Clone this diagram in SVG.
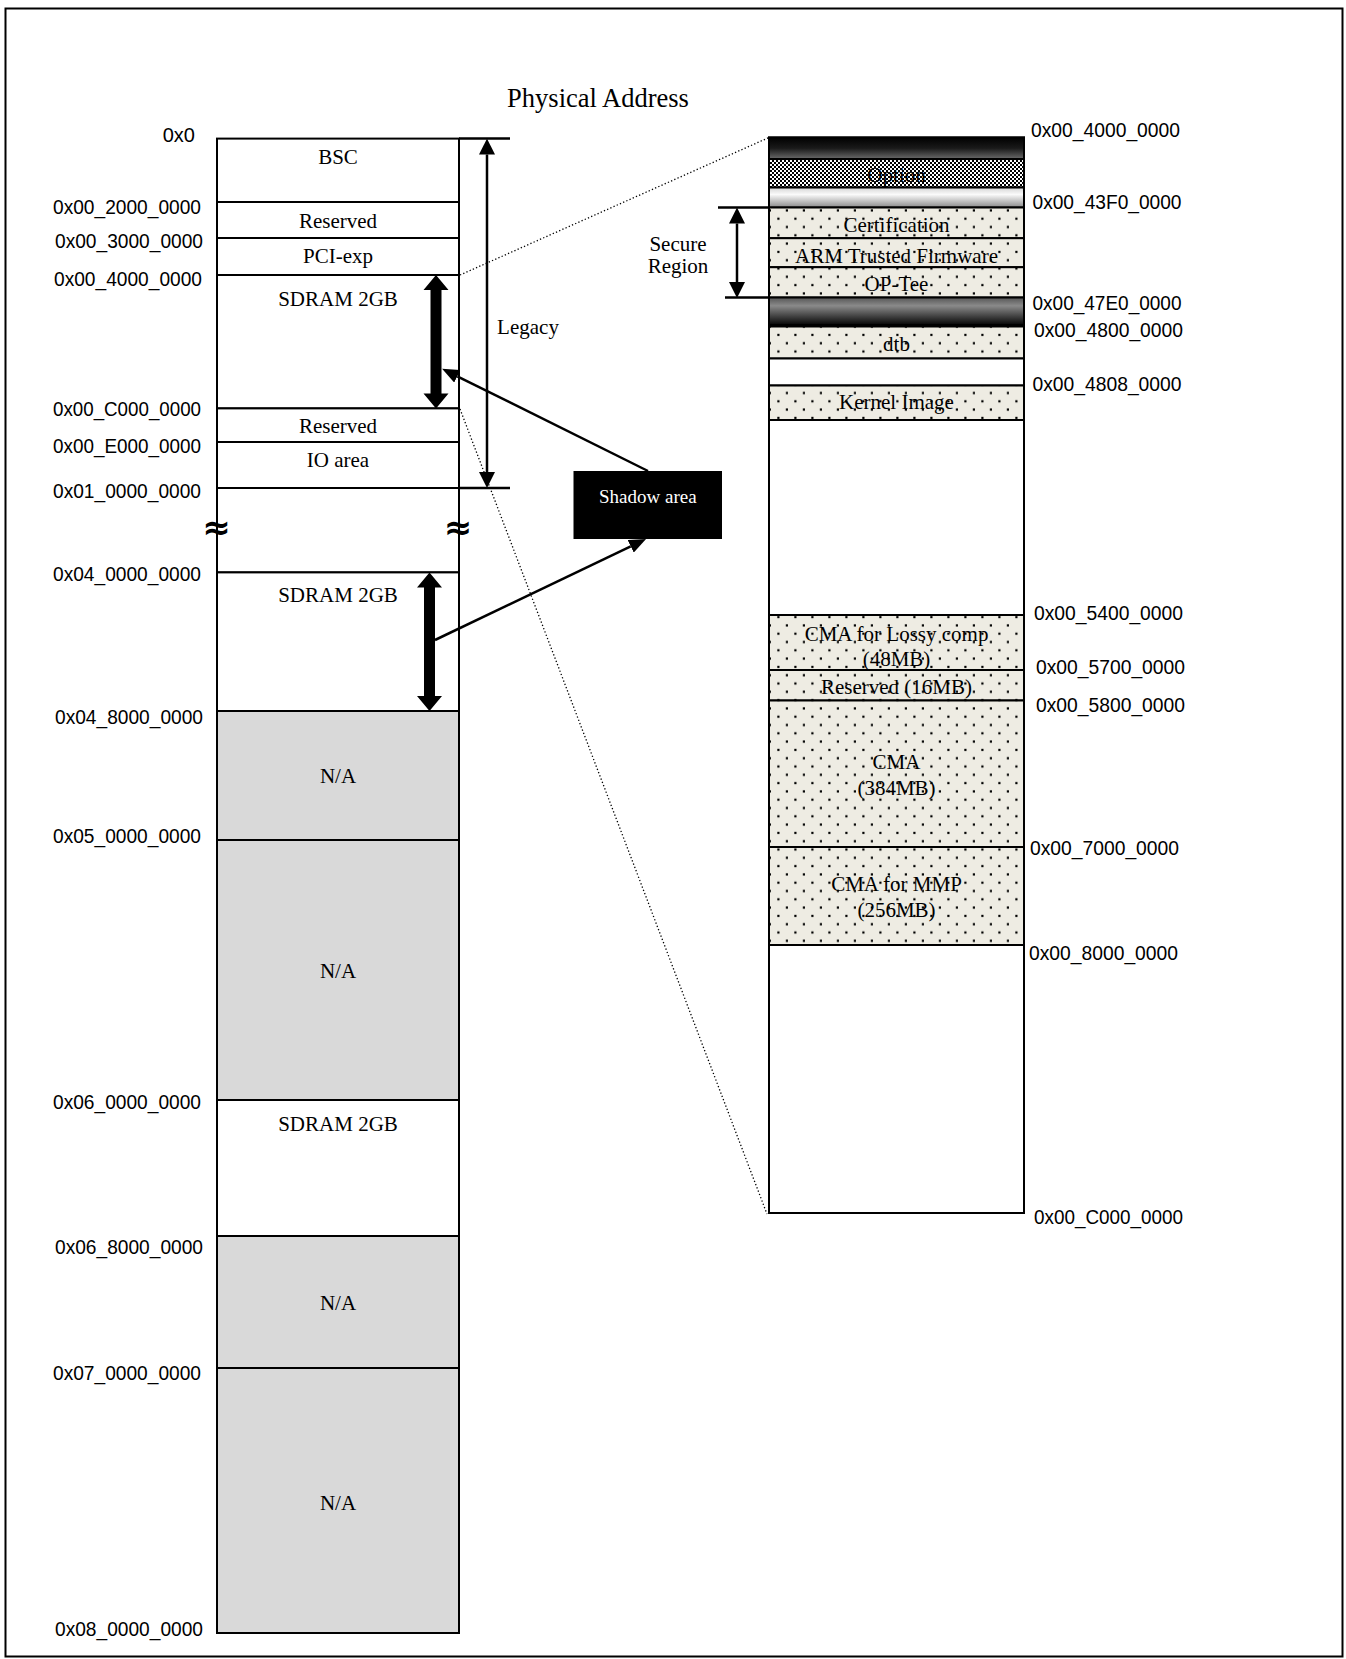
<svg xmlns="http://www.w3.org/2000/svg" width="1346" height="1659" viewBox="0 0 1346 1659">
<style>
.box{stroke:#000;stroke-width:2}
.w{fill:#fff}
.na{fill:#d9d9d9}
.dot{fill:url(#dots)}
.lbl{font-family:"Liberation Serif","Times New Roman",serif;font-size:21px;fill:#000;text-anchor:middle}
.addr{font-family:"Liberation Sans",Arial,sans-serif;font-size:20px;fill:#000}
.l{text-anchor:end}
.thin{stroke:#000;stroke-width:2.5;fill:none}
.dotted{stroke:#000;stroke-width:1.3;stroke-dasharray:1.3 2.2;fill:none}
.eq{font-family:"DejaVu Sans",sans-serif;font-size:34px;font-weight:bold;fill:#000;text-anchor:middle}
</style>
<defs>
<pattern id="dots" patternUnits="userSpaceOnUse" x="770" y="0" width="17" height="16.6">
<rect width="17" height="16.6" fill="#eeece3"/>
<rect x="7.3" y="1.8" width="2.2" height="2.2" fill="#000"/>
<rect x="15.8" y="10.1" width="2.2" height="2.2" fill="#000"/>
<rect x="-1.2" y="10.1" width="2.2" height="2.2" fill="#000"/>
</pattern>
<pattern id="checker" patternUnits="userSpaceOnUse" width="4" height="4">
<rect width="4" height="4" fill="#fff"/>
<rect width="2" height="2" fill="#000"/>
<rect x="2" y="2" width="2" height="2" fill="#000"/>
</pattern>
<linearGradient id="g1" x1="0" y1="0" x2="0" y2="1">
<stop offset="0" stop-color="#000"/>
<stop offset="0.5" stop-color="#1a1a1a"/>
<stop offset="1" stop-color="#6a6a6a"/>
</linearGradient>
<linearGradient id="g2" x1="0" y1="0" x2="0" y2="1">
<stop offset="0" stop-color="#d4d4d4"/>
<stop offset="0.35" stop-color="#fafafa"/>
<stop offset="1" stop-color="#8a8a8a"/>
</linearGradient>
<linearGradient id="g3" x1="0" y1="0" x2="0" y2="1">
<stop offset="0" stop-color="#555"/>
<stop offset="0.3" stop-color="#8a8a8a"/>
<stop offset="1" stop-color="#050505"/>
</linearGradient>
<marker id="ah" viewBox="0 0 16 16" refX="0" refY="8" markerWidth="16" markerHeight="16" markerUnits="userSpaceOnUse" orient="auto-start-reverse">
<path d="M0,0 L16,8 L0,16 z" fill="#000"/>
</marker>
<marker id="ptr" viewBox="0 0 17 14" refX="0" refY="7" markerWidth="17" markerHeight="14" markerUnits="userSpaceOnUse" orient="auto">
<path d="M0,0 L17,7 L0,14 z" fill="#000"/>
</marker>
</defs>

<rect id="frame" x="5.5" y="8.5" width="1337" height="1648" fill="#fff" stroke="#000" stroke-width="2"/>

<text id="title" x="598" y="107" font-family="Liberation Serif,'Times New Roman',serif" font-size="26.5" text-anchor="middle">Physical Address</text>

<!-- Left column -->
<g id="left-map">
<g id="l-bsc"><rect class="box w" x="217" y="138.6" width="242" height="63.4"/><text class="lbl" x="338" y="164">BSC</text></g>
<g id="l-res1"><rect class="box w" x="217" y="202" width="242" height="36"/><text class="lbl" x="338" y="227.5">Reserved</text></g>
<g id="l-pci"><rect class="box w" x="217" y="238" width="242" height="37"/><text class="lbl" x="338" y="262.5">PCI-exp</text></g>
<g id="l-sdram1"><rect class="box w" x="217" y="275" width="242" height="133.4"/><text class="lbl" x="338" y="306">SDRAM 2GB</text></g>
<g id="l-res2"><rect class="box w" x="217" y="408.4" width="242" height="33.6"/><text class="lbl" x="338" y="432.5">Reserved</text></g>
<g id="l-io"><rect class="box w" x="217" y="442" width="242" height="46"/><text class="lbl" x="338" y="467">IO area</text></g>
<g id="l-gap"><rect class="box w" x="217" y="488" width="242" height="84.4"/>
<text class="eq" x="216.5" y="539">≈</text><text class="eq" x="458" y="539">≈</text></g>
<g id="l-sdram2"><rect class="box w" x="217" y="572.4" width="242" height="138.6"/><text class="lbl" x="338" y="602">SDRAM 2GB</text></g>
<g id="l-na1"><rect class="box na" x="217" y="711" width="242" height="129"/><text class="lbl" x="338" y="783">N/A</text></g>
<g id="l-na2"><rect class="box na" x="217" y="840" width="242" height="260"/><text class="lbl" x="338" y="977.5">N/A</text></g>
<g id="l-sdram3"><rect class="box w" x="217" y="1100" width="242" height="136"/><text class="lbl" x="338" y="1131">SDRAM 2GB</text></g>
<g id="l-na3"><rect class="box na" x="217" y="1236" width="242" height="132"/><text class="lbl" x="338" y="1310">N/A</text></g>
<g id="l-na4"><rect class="box na" x="217" y="1368" width="242" height="265"/><text class="lbl" x="338" y="1510">N/A</text></g>
</g>

<g id="left-addr">
<text class="addr l" x="195" y="142">0x0</text>
<text class="addr l" x="201" y="213.5" textLength="148" lengthAdjust="spacingAndGlyphs">0x00_2000_0000</text>
<text class="addr l" x="203" y="247.5" textLength="148" lengthAdjust="spacingAndGlyphs">0x00_3000_0000</text>
<text class="addr l" x="202" y="286" textLength="148" lengthAdjust="spacingAndGlyphs">0x00_4000_0000</text>
<text class="addr l" x="201" y="416" textLength="148" lengthAdjust="spacingAndGlyphs">0x00_C000_0000</text>
<text class="addr l" x="201" y="453" textLength="148" lengthAdjust="spacingAndGlyphs">0x00_E000_0000</text>
<text class="addr l" x="201" y="498" textLength="148" lengthAdjust="spacingAndGlyphs">0x01_0000_0000</text>
<text class="addr l" x="201" y="581" textLength="148" lengthAdjust="spacingAndGlyphs">0x04_0000_0000</text>
<text class="addr l" x="203" y="724" textLength="148" lengthAdjust="spacingAndGlyphs">0x04_8000_0000</text>
<text class="addr l" x="201" y="843" textLength="148" lengthAdjust="spacingAndGlyphs">0x05_0000_0000</text>
<text class="addr l" x="201" y="1109" textLength="148" lengthAdjust="spacingAndGlyphs">0x06_0000_0000</text>
<text class="addr l" x="203" y="1253.5" textLength="148" lengthAdjust="spacingAndGlyphs">0x06_8000_0000</text>
<text class="addr l" x="201" y="1380" textLength="148" lengthAdjust="spacingAndGlyphs">0x07_0000_0000</text>
<text class="addr l" x="203" y="1635.5" textLength="148" lengthAdjust="spacingAndGlyphs">0x08_0000_0000</text>
</g>

<!-- Right column -->
<g id="right-map">
<rect class="box w" x="769" y="137.5" width="255" height="1075.5"/>
<g id="r-band1"><rect class="box" x="769" y="137.5" width="255" height="21.5" fill="url(#g1)"/></g>
<g id="r-option"><rect class="box" x="769" y="159" width="255" height="28.5" fill="url(#checker)"/><text class="lbl" x="896.5" y="182" fill="#222">Option</text></g>
<g id="r-band2"><rect class="box" x="769" y="187.5" width="255" height="20" fill="url(#g2)"/></g>
<g id="r-cert"><rect class="box dot" x="769" y="207.5" width="255" height="30.7"/><text class="lbl" x="896.5" y="232">Certification</text></g>
<g id="r-atf"><rect class="box dot" x="769" y="238.2" width="255" height="29"/><text class="lbl" x="896.5" y="263">ARM Trusted Firmware</text></g>
<g id="r-optee"><rect class="box dot" x="769" y="267.2" width="255" height="30.3"/><text class="lbl" x="896.5" y="291">OP-Tee</text></g>
<g id="r-band3"><rect class="box" x="769" y="297.5" width="255" height="27.5" fill="url(#g3)"/></g>
<g id="r-dtb"><rect class="box dot" x="769" y="326.5" width="255" height="32"/><text class="lbl" x="896.5" y="351">dtb</text></g>
<g id="r-free1"><rect class="box w" x="769" y="358.5" width="255" height="27"/></g>
<g id="r-kernel"><rect class="box dot" x="769" y="385.5" width="255" height="34.5"/><text class="lbl" x="896.5" y="409">Kernel Image</text></g>
<g id="r-free2"><rect class="box w" x="769" y="420" width="255" height="195"/></g>
<g id="r-lossy"><rect class="box dot" x="769" y="615" width="255" height="55"/><text class="lbl" x="896.5" y="640.5">CMA for Lossy comp</text><text class="lbl" x="896.5" y="666">(48MB)</text></g>
<g id="r-res16"><rect class="box dot" x="769" y="670" width="255" height="30.5"/><text class="lbl" x="896.5" y="694">Reserved (16MB)</text></g>
<g id="r-cma"><rect class="box dot" x="769" y="700.5" width="255" height="146.5"/><text class="lbl" x="896.5" y="768.5">CMA</text><text class="lbl" x="896.5" y="794.5">(384MB)</text></g>
<g id="r-mmp"><rect class="box dot" x="769" y="847" width="255" height="98"/><text class="lbl" x="896.5" y="890.5">CMA for MMP</text><text class="lbl" x="896.5" y="917">(256MB)</text></g>
<g id="r-free3"><rect class="box w" x="769" y="945" width="255" height="268"/></g>
</g>

<g id="right-addr">
<text class="addr" x="1031" y="137" textLength="149" lengthAdjust="spacingAndGlyphs">0x00_4000_0000</text>
<text class="addr" x="1032.5" y="209" textLength="149" lengthAdjust="spacingAndGlyphs">0x00_43F0_0000</text>
<text class="addr" x="1032.5" y="310" textLength="149" lengthAdjust="spacingAndGlyphs">0x00_47E0_0000</text>
<text class="addr" x="1034" y="336.5" textLength="149" lengthAdjust="spacingAndGlyphs">0x00_4800_0000</text>
<text class="addr" x="1032.5" y="390.5" textLength="149" lengthAdjust="spacingAndGlyphs">0x00_4808_0000</text>
<text class="addr" x="1034" y="620" textLength="149" lengthAdjust="spacingAndGlyphs">0x00_5400_0000</text>
<text class="addr" x="1036" y="674" textLength="149" lengthAdjust="spacingAndGlyphs">0x00_5700_0000</text>
<text class="addr" x="1036" y="711.5" textLength="149" lengthAdjust="spacingAndGlyphs">0x00_5800_0000</text>
<text class="addr" x="1030" y="854.5" textLength="149" lengthAdjust="spacingAndGlyphs">0x00_7000_0000</text>
<text class="addr" x="1029" y="960" textLength="149" lengthAdjust="spacingAndGlyphs">0x00_8000_0000</text>
<text class="addr" x="1034" y="1224" textLength="149" lengthAdjust="spacingAndGlyphs">0x00_C000_0000</text>
</g>

<g id="shadow-area">
<rect x="573.5" y="471" width="148.5" height="68" fill="#000"/>
<text x="647.8" y="503" font-family="Liberation Serif,'Times New Roman',serif" font-size="19" fill="#fff" text-anchor="middle">Shadow area</text>
</g>

<g id="secure-label">
<text class="lbl" x="678" y="251">Secure</text>
<text class="lbl" x="678" y="273">Region</text>
</g>
<text id="legacy-label" class="lbl" x="528" y="333.5">Legacy</text>

<g id="connectors">
<line class="thin" x1="459" y1="138.6" x2="510" y2="138.6" stroke-width="2"/>
<line class="thin" x1="459" y1="488" x2="510" y2="488" stroke-width="2"/>
<line class="thin" x1="487" y1="154.6" x2="487" y2="472" marker-start="url(#ah)" marker-end="url(#ah)"/>
<line class="thin" x1="718" y1="207.5" x2="769" y2="207.5" stroke-width="2"/>
<line class="thin" x1="725" y1="297.5" x2="769" y2="297.5" stroke-width="2"/>
<line class="thin" x1="737" y1="223.5" x2="737" y2="282" marker-start="url(#ah)" marker-end="url(#ah)"/>
<polygon points="436,275 448.5,290 441.5,290 441.5,393.4 448.5,393.4 436,408.4 423.5,393.4 430.5,393.4 430.5,290 423.5,290" fill="#000"/>
<polygon points="429.5,572.4 442,587.4 435,587.4 435,696 442,696 429.5,711 417,696 424,696 424,587.4 417,587.4" fill="#000"/>
<line class="thin" x1="648" y1="471" x2="457.3" y2="376.3" marker-end="url(#ptr)"/>
<line class="thin" x1="435" y1="640" x2="630.7" y2="546.3" marker-end="url(#ptr)"/>
<line class="dotted" x1="460" y1="275" x2="769" y2="137.5"/>
<line class="dotted" x1="460" y1="409" x2="767" y2="1214"/>
</g>
</svg>
